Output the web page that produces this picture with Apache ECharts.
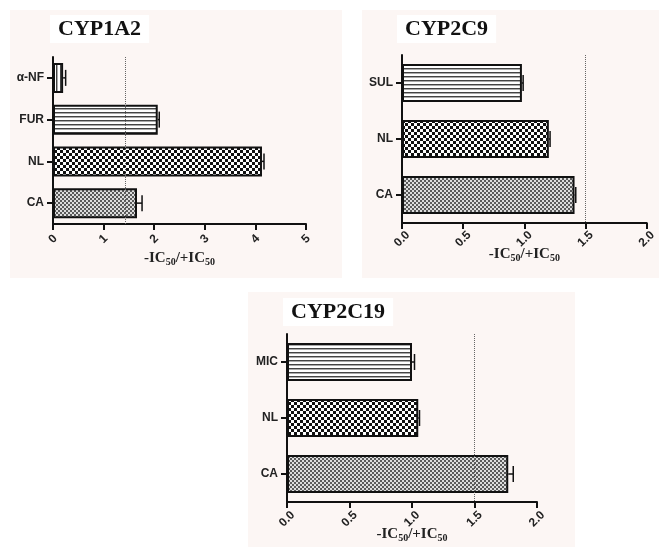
<!DOCTYPE html>
<html><head><meta charset="utf-8">
<script src="https://cdn.jsdelivr.net/npm/echarts@6/dist/echarts.min.js"></script>
<style>html,body{margin:0;padding:0;background:#fff}#c{width:659px;height:547px}</style>
</head><body><div id="c"></div>
<script>
// ---- data ----
const titles = ['CYP1A2', 'CYP2C9', 'CYP2C19'];
const cats1 = ['α-NF', 'FUR', 'NL', 'CA'];
const vals1 = [0.20, 2.07, 4.13, 1.66];
const errs1 = [0.05, 0.03, 0.04, 0.10];
const cats2 = ['SUL', 'NL', 'CA'];
const vals2 = [0.98, 1.20, 1.41];
const errs2 = [0.01, 0.01, 0.01];
const cats3 = ['MIC', 'NL', 'CA'];
const vals3 = [1.00, 1.05, 1.77];
const errs3 = [0.02, 0.01, 0.04];
const refLines = [1.43, 1.5, 1.5];
const xMax = [5, 2, 2];
const xInterval = [1, 0.5, 0.5];
const pat1 = ['v', 'h', 'c', 'f'];
const pat2 = ['h', 'c', 'f'];
const pat3 = ['h', 'c', 'f'];

// ---- patterns ----
function mk(w, h, draw) { const c = document.createElement('canvas'); c.width = w; c.height = h; const g = c.getContext('2d'); draw(g); return { image: c, repeat: 'repeat' }; }
const patterns = {
  h: mk(4, 4, g => { g.fillStyle = '#fff'; g.fillRect(0, 0, 4, 4); g.fillStyle = '#444'; g.fillRect(0, 0, 4, 1); g.fillStyle = '#aaa'; g.fillRect(0, 1, 4, 1); }),
  v: mk(4, 4, g => { g.fillStyle = '#fff'; g.fillRect(0, 0, 4, 4); g.fillStyle = '#444'; g.fillRect(0, 0, 1, 4); g.fillStyle = '#aaa'; g.fillRect(1, 0, 1, 4); }),
  c: mk(6, 6, g => { g.fillStyle = '#fff'; g.fillRect(0, 0, 6, 6); g.fillStyle = '#111'; g.fillRect(0, 0, 3, 3); g.fillRect(3, 3, 3, 3); }),
  f: mk(4, 4, g => { g.fillStyle = '#dcdcdc'; g.fillRect(0, 0, 4, 4); g.fillStyle = '#5a5a5a'; g.fillRect(0, 0, 2, 2); g.fillRect(2, 2, 2, 2); })
};

const grids = [
  { left: 53, top: 57, width: 253, height: 167 },
  { left: 402, top: 55, width: 251, height: 168 },
  { left: 287, top: 334, width: 250, height: 168 }
];
const nameGaps = [26, 23, 24];
const labelMargins = [15, 16, 17];
const barWidths = [30, 38, 38];
const panels = [[cats1, vals1, errs1, pat1], [cats2, vals2, errs2, pat2], [cats3, vals3, errs3, pat3]];

const serif = 'Liberation Serif';
const sans = 'Liberation Sans';

const option = {
  backgroundColor: '#fff',
  animation: false,
  graphic: [
    { type: 'rect', z: -10, shape: { x: 10, y: 10, width: 332, height: 268 }, style: { fill: '#fcf6f4' } },
    { type: 'rect', z: -10, shape: { x: 362, y: 10, width: 297, height: 268 }, style: { fill: '#fcf6f4' } },
    { type: 'rect', z: -10, shape: { x: 248, y: 292, width: 327, height: 255 }, style: { fill: '#fcf6f4' } }
  ],
  title: [
    { text: titles[0], left: 50, top: 15 },
    { text: titles[1], left: 397, top: 15 },
    { text: titles[2], left: 283, top: 298 }
  ].map(t => Object.assign(t, { backgroundColor: '#fff', padding: [3, 8], textStyle: { fontFamily: serif, fontWeight: 'bold', fontSize: 22, color: '#111' } })),
  grid: grids,
  xAxis: grids.map((g, i) => ({
    type: 'value', gridIndex: i, min: 0, max: xMax[i], interval: xInterval[i],
    name: '{a|-IC}{b|50}{a|/+IC}{b|50}', nameLocation: 'middle', nameGap: nameGaps[i],
    nameMoveOverlap: false,
    nameTextStyle: { rich: {
      a: { fontFamily: serif, fontWeight: 'bold', fontSize: 15, color: '#222' },
      b: { fontFamily: serif, fontWeight: 'bold', fontSize: 10, color: '#222', padding: [7, 0, 0, 0] }
    } },
    axisLine: { show: true, lineStyle: { color: '#111', width: 2 } },
    axisTick: { show: true, length: 6, lineStyle: { color: '#111', width: 2 } },
    splitLine: { show: false },
    axisLabel: { rotate: 45, margin: labelMargins[i], align: 'center', verticalAlign: 'middle',
      fontFamily: sans, fontWeight: 'bold', fontSize: 12, color: '#222',
      formatter: v => i === 0 ? String(v) : v.toFixed(1) }
  })),
  yAxis: grids.map((g, i) => ({
    type: 'category', gridIndex: i, inverse: true, data: panels[i][0],
    axisLine: { show: true, lineStyle: { color: '#111', width: 2 } },
    axisTick: { show: true, length: 6, alignWithLabel: true, lineStyle: { color: '#111', width: 2 } },
    axisLabel: { margin: 9, fontFamily: sans, fontWeight: 'bold', fontSize: 12, color: '#222' }
  })),
  series: []
};

panels.forEach((p, i) => {
  const [cats, vals, errs, pats] = p;
  option.series.push({
    type: 'bar', xAxisIndex: i, yAxisIndex: i, barWidth: barWidths[i],
    data: vals.map((v, k) => ({ value: v, itemStyle: { color: patterns[pats[k]] } })),
    itemStyle: { borderColor: '#111', borderWidth: 2 },
    markLine: { silent: true, symbol: 'none', label: { show: false },
      lineStyle: { type: 'dotted', color: '#666', width: 1 },
      data: [{ xAxis: refLines[i] }] }
  });
  option.series.push({
    type: 'custom', xAxisIndex: i, yAxisIndex: i, z: 5,
    data: vals.map((v, k) => [v, errs[k], k]),
    encode: { x: 0, y: 2 },
    renderItem: (params, api) => {
      const v = api.value(0), e = api.value(1), k = api.value(2);
      const a = api.coord([v, k]), b = api.coord([v + e, k]);
      const st = { stroke: '#111', lineWidth: 1.5 };
      return { type: 'group', children: [
        { type: 'line', shape: { x1: a[0], y1: a[1], x2: b[0], y2: b[1] }, style: st },
        { type: 'line', shape: { x1: b[0], y1: b[1] - 8, x2: b[0], y2: b[1] + 8 }, style: st }
      ] };
    }
  });
});

const chart = echarts.init(document.getElementById('c'), null, { renderer: 'canvas' });
chart.setOption(option);
</script>
</body></html>
